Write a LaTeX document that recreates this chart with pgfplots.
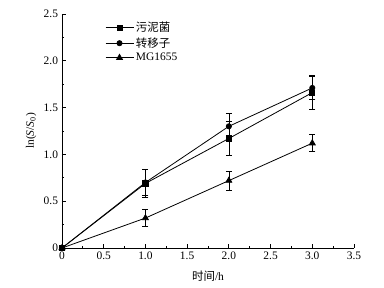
\documentclass[border=0pt]{standalone}
\usepackage{fontspec}
\setmainfont{Liberation Serif}
\newfontfamily\cjk{Noto Sans CJK SC}
\usepackage{pgfplots}
\pgfplotsset{compat=1.18}
\begin{document}
\begin{tikzpicture}
\path[use as bounding box] (-62bp,-40bp) rectangle (322bp,248bp);
\begin{axis}[
  at={(0,0)}, anchor=origin,
  scale only axis, width=292bp, height=234bp,
  xmin=0, xmax=3.5, ymin=0, ymax=2.5,
  axis lines*=left,
  axis line style={line width=0.8bp},
  xtick={0,0.5,1,1.5,2,2.5,3,3.5},
  ytick={0,0.5,1,1.5,2,2.5},
  xticklabels={0,0.5,1.0,1.5,2.0,2.5,3.0,3.5},
  yticklabels={0,0.5,1.0,1.5,2.0,2.5},
  minor x tick num=1, minor y tick num=1,
  tick align=inside,
  major tick length=4bp, minor tick length=2bp,
  tick style={line width=0.8bp, black},
  ticklabel style={font=\fontsize{11.5}{13}\selectfont},
  yticklabel style={xshift=-0.5bp},
  xlabel={{\cjk 时间}/h},
  ylabel={ln(\textit{S}/\textit{S}\textsubscript{0})},
  label style={font=\fontsize{11.5}{13}\selectfont},
  xlabel style={at={(axis description cs:0.5,-0.12)}, anchor=center},
  ylabel style={at={(axis description cs:-0.106,0.5)}, anchor=center},
  legend style={at={(rel axis cs:0.147,0.975)}, anchor=north west, draw=none, fill=none,
    font=\fontsize{11.5}{13}\selectfont, row sep=0.5bp, inner sep=0pt},
  legend cell align=left,
  legend image code/.code={\draw[mark repeat=2,mark phase=2] plot coordinates {(0bp,0bp)(14bp,0bp)(28bp,0bp)};},
  every axis plot/.append style={black, line width=0.8bp},
  error bars/y dir=both, error bars/y explicit,
  error bars/error mark options={rotate=90, mark size=3bp, line width=0.7bp},
  error bars/error bar style={line width=0.7bp},
]
\addplot[mark=square*, mark size=2.6bp] coordinates {
  (0,0) +- (0,0)
  (1,0.69) +- (0,0.15)
  (2,1.17) +- (0,0.18)
  (3,1.66) +- (0,0.18)
};
\addlegendentry{{\cjk 污泥菌}}
\addplot[mark=*, mark size=2.6bp] coordinates {
  (0,0) +- (0,0)
  (1,0.70) +- (0,0.14)
  (2,1.30) +- (0,0.14)
  (3,1.71) +- (0,0.12)
};
\addlegendentry{{\cjk 转移子}}
\addplot[mark=triangle*, mark size=3.4bp] coordinates {
  (0,0) +- (0,0)
  (1,0.32) +- (0,0.09)
  (2,0.72) +- (0,0.10)
  (3,1.12) +- (0,0.09)
};
\addlegendentry{MG1655}
\end{axis}
\end{tikzpicture}
\end{document}
